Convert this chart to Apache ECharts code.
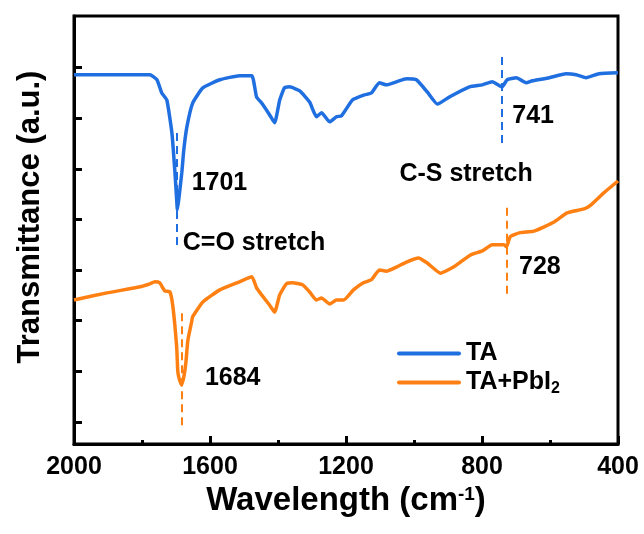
<!DOCTYPE html>
<html>
<head>
<meta charset="utf-8">
<script src="https://cdn.jsdelivr.net/npm/echarts@6/dist/echarts.min.js"></script>
<style>html,body{margin:0;padding:0;background:#fff}#c{width:644px;height:534px}</style>
</head>
<body>
<div id="c"></div>
<script>
// wavenumber (cm-1) and transmittance (a.u.)
var taWave = [2000,1777,1756,1742,1727,1712,1703,1698,1696,1692,1683,1677,1668,1651,1621,1571,1513,1477,1463,1448,1425,1410,1395,1381,1366,1336,1307,1287,1272,1248,1228,1213,1181,1146,1125,1102,1081,1052,1022,993,961,931,896,837,799,770,741,726,699,670,652,602,553,523,494,456,400];
var taT    = [6.86,6.86,6.76,6.50,6.36,5.71,4.92,4.39,4.19,4.39,4.92,5.38,5.83,6.30,6.60,6.76,6.84,6.84,6.42,6.30,6.07,5.91,6.36,6.60,6.62,6.54,6.32,6.03,6.11,5.93,6.03,6.05,6.36,6.46,6.50,6.70,6.66,6.72,6.78,6.76,6.52,6.28,6.42,6.62,6.66,6.72,6.62,6.76,6.80,6.70,6.74,6.80,6.88,6.86,6.80,6.88,6.90];
var pbWave = [2000,1903,1806,1777,1762,1748,1733,1718,1709,1698,1695,1692,1684,1677,1671,1665,1654,1651,1621,1571,1513,1477,1463,1448,1425,1410,1395,1375,1357,1328,1307,1287,1272,1248,1228,1207,1178,1149,1125,1102,1081,1052,1022,987,961,922,884,834,799,770,735,728,717,688,647,588,550,500,479,441,400];
var pbT    = [2.41,2.55,2.67,2.73,2.77,2.75,2.59,2.57,2.27,1.48,1.03,0.89,0.73,0.89,1.17,1.62,1.98,2.08,2.37,2.61,2.77,2.87,2.65,2.51,2.31,2.17,2.51,2.73,2.75,2.71,2.57,2.41,2.45,2.33,2.41,2.41,2.61,2.75,2.81,3.00,2.98,3.06,3.16,3.24,3.14,2.94,3.06,3.30,3.38,3.50,3.50,3.46,3.66,3.74,3.77,3.95,4.13,4.21,4.29,4.53,4.76];
var xTicks = [2000,1600,1200,800,400];
var yTickValues = [0,1,2,3,4,5,6,7];
var seriesNames = ['TA','TA+PbI2'];
// dashed peak markers: [wavenumber, from, to]
var taMarks = [[1699,5.71,3.46],[741,7.21,5.51]];
var pbMarks = [[1684,2.15,-0.10],[728,4.23,2.51]];
// annotation labels: [text, wavenumber, value]
var taNotes = [['1701',1654,4.72],['C=O stretch',1680,3.54],['741',711,6.05],['C-S stretch',1043,4.90]];
var pbNotes = [['1684',1615,0.87],['728',691,3.06]];

var BLUE = '#1F6FE0', ORANGE = '#FF8012';
var FONT = 'Liberation Sans, Arial, sans-serif';
function zip(a,b){return a.map(function(v,i){return [v,b[i]];});}
function markLines(m){return m.map(function(d){return [{coord:[d[0],d[1]]},{coord:[d[0],d[2]]}];});}
function notes(n){return n.map(function(d){return {coord:[d[1],d[2]],value:d[0],symbolSize:0,
  label:{show:true,position:'right',distance:0,formatter:d[0],color:'#000',fontSize:25,fontWeight:'bold',fontFamily:FONT}};});}

var chart = echarts.init(document.getElementById('c'), null, {renderer:'canvas'});
chart.setOption({
  animation:false,
  backgroundColor:'#fff',
  grid:{left:74,right:26,top:16,bottom:90,show:true,borderColor:'#000',borderWidth:3,backgroundColor:'transparent'},
  legend:{
    orient:'vertical', left:392, top:336, itemWidth:64, itemHeight:28, itemGap:4, icon:'path://M2,12 L62,12 A2,2 0 0 1 62,16 L2,16 A2,2 0 0 1 2,12 Z',
    data:seriesNames,
    formatter:function(n){return n==='TA+PbI2'?'TA+PbI{s|2}':n;},
    textStyle:{color:'#000',fontSize:25,fontWeight:'bold',fontFamily:FONT,
      rich:{s:{fontSize:16,fontWeight:'bold',verticalAlign:'bottom',padding:[12,0,0,0],fontFamily:FONT}}}
  },
  xAxis:{
    type:'value', inverse:true, min:400, max:2000, interval:400,
    name:'Wavelength (cm{sup|-1})', nameLocation:'middle', nameGap:40,
    nameTextStyle:{color:'#000',fontSize:33,fontWeight:'bold',fontFamily:FONT,
      rich:{sup:{fontSize:19,fontWeight:'bold',verticalAlign:'top',padding:[0,0,14,0],fontFamily:FONT}}},
    axisLine:{show:true,onZero:false,lineStyle:{color:'#000',width:3}},
    axisTick:{show:true,inside:true,length:8,lineStyle:{color:'#000',width:3}},
    minorTick:{show:true,splitNumber:2,length:4,lineStyle:{color:'#000',width:3}},
    axisLabel:{color:'#000',fontSize:25,fontWeight:'bold',margin:11,fontFamily:FONT,
      formatter:function(v){return String(v);}},
    splitLine:{show:false}
  },
  yAxis:{
    type:'value', min:-0.435, max:8.02,
    name:'Transmittance (a.u.)', nameLocation:'middle', nameGap:28,
    nameTextStyle:{color:'#000',fontSize:31,fontWeight:'bold',fontFamily:FONT,padding:[0,0,0,26]},
    axisLine:{show:true,onZero:false,lineStyle:{color:'#000',width:3}},
    axisTick:{show:true,inside:true,length:8,lineStyle:{color:'#000',width:3},customValues:yTickValues},
    axisLabel:{show:false},
    splitLine:{show:false}
  },
  series:[
    {name:'TA',type:'line',data:zip(taWave,taT),symbol:'none',smooth:0.15,
      lineStyle:{color:BLUE,width:3.5},itemStyle:{color:BLUE},
      markLine:{silent:true,symbol:'none',label:{show:false},lineStyle:{color:BLUE,width:2,type:[8,5]},data:markLines(taMarks)},
      markPoint:{silent:true,symbol:'circle',symbolSize:0,data:notes(taNotes)}},
    {name:'TA+PbI2',type:'line',data:zip(pbWave,pbT),symbol:'none',smooth:0.15,
      lineStyle:{color:ORANGE,width:3.5},itemStyle:{color:ORANGE},
      markLine:{silent:true,symbol:'none',label:{show:false},lineStyle:{color:ORANGE,width:2,type:[8,5]},data:markLines(pbMarks)},
      markPoint:{silent:true,symbol:'circle',symbolSize:0,data:notes(pbNotes)}}
  ]
});
</script>
</body>
</html>
